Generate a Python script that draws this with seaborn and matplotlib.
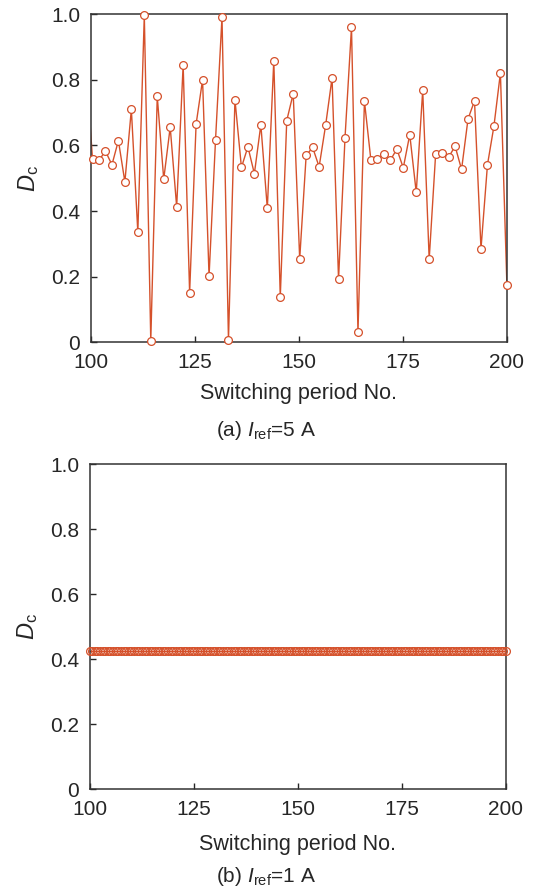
import numpy as np
import pandas as pd
import matplotlib
matplotlib.use("Agg")
import matplotlib.pyplot as plt
import seaborn as sns

# Dc per switching period, Iref = 5 A (first value sits just left of the axis)
dc_5A = [0.85,
         0.558, 0.555, 0.583, 0.541, 0.615, 0.489, 0.710, 0.336, 0.997, 0.005,
         0.750, 0.497, 0.656, 0.413, 0.846, 0.151, 0.665, 0.800, 0.201, 0.617,
         0.991, 0.007, 0.740, 0.533, 0.596, 0.514, 0.663, 0.408, 0.859, 0.138,
         0.676, 0.758, 0.254, 0.570, 0.594, 0.535, 0.661, 0.806, 0.192, 0.624,
         0.960, 0.031, 0.735, 0.555, 0.560, 0.574, 0.555, 0.589, 0.532, 0.633,
         0.457, 0.768, 0.253, 0.575, 0.578, 0.564, 0.598, 0.527, 0.681, 0.736,
         0.285, 0.541, 0.659, 0.821, 0.176]
period_5A = np.linspace(98.9, 200, len(dc_5A))

# Iref = 1 A: Dc stays constant
dc_1A = [0.425] * 160
period_1A = np.linspace(100, 200, len(dc_1A))

xticks = [100, 125, 150, 175, 200]
yticks = [0, 0.2, 0.4, 0.6, 0.8, 1.0]
yticklabels = ["0", "0.2", "0.4", "0.6", "0.8", "1.0"]
captions = [r"(a) $I_{\rm ref}$=5 A", r"(b) $I_{\rm ref}$=1 A"]

sns.set_style("ticks")
plt.rcParams["font.family"] = ["Liberation Sans", "DejaVu Sans"]
plt.rcParams["mathtext.fontset"] = "custom"
plt.rcParams["mathtext.rm"] = "Liberation Sans"
plt.rcParams["mathtext.it"] = "Liberation Sans:italic"

col = "#D5512B"
txt = "#262626"

fig = plt.figure(figsize=(5.33, 8.91), dpi=100)
ax1 = fig.add_axes([0.170, 0.6158, 0.781, 0.3682])
ax2 = fig.add_axes([0.168, 0.1141, 0.781, 0.3648])

df_a = pd.DataFrame({"period": period_5A, "dc": dc_5A})
df_b = pd.DataFrame({"period": period_1A, "dc": dc_1A})

sns.lineplot(data=df_a, x="period", y="dc", ax=ax1, color=col, lw=1.0)
inside = df_a[df_a["period"] >= 100]
ax1.plot(inside["period"], inside["dc"], ls="none", marker="o", ms=5.6,
         mfc="white", mec=col, mew=0.9, clip_on=False, zorder=3)

sns.lineplot(data=df_b, x="period", y="dc", ax=ax2, color=col, lw=1.0)
ax2.plot(df_b["period"], df_b["dc"], ls="none", marker="o", ms=5.6,
         mfc="none", mec=col, mew=0.9, clip_on=False, zorder=3)

for ax, cap, ycap, lp in zip([ax1, ax2], captions, [430, 877], [7.5, 10.5]):
    ax.set_xlim(100, 200)
    ax.set_ylim(0, 1)
    ax.set_xticks(xticks)
    ax.set_yticks(yticks)
    ax.set_yticklabels(yticklabels)
    ax.tick_params(direction="in", length=4, width=1, labelsize=15,
                   colors=txt)
    ax.tick_params(axis="x", pad=8)
    ax.tick_params(axis="y", pad=7.5)
    for s in ax.spines.values():
        s.set_linewidth(1.1)
        s.set_color("#333333")
    ax.set_xlabel("Switching period No.", fontsize=15.5, color=txt, labelpad=lp)
    ax.set_ylabel(r"$D_{\rm c}$", fontsize=17, color=txt, labelpad=7)
    fig.text(0.5, 1 - ycap / 891, cap, ha="center", va="center",
             fontsize=15, color=txt)

fig.savefig("out.png", dpi=100)
